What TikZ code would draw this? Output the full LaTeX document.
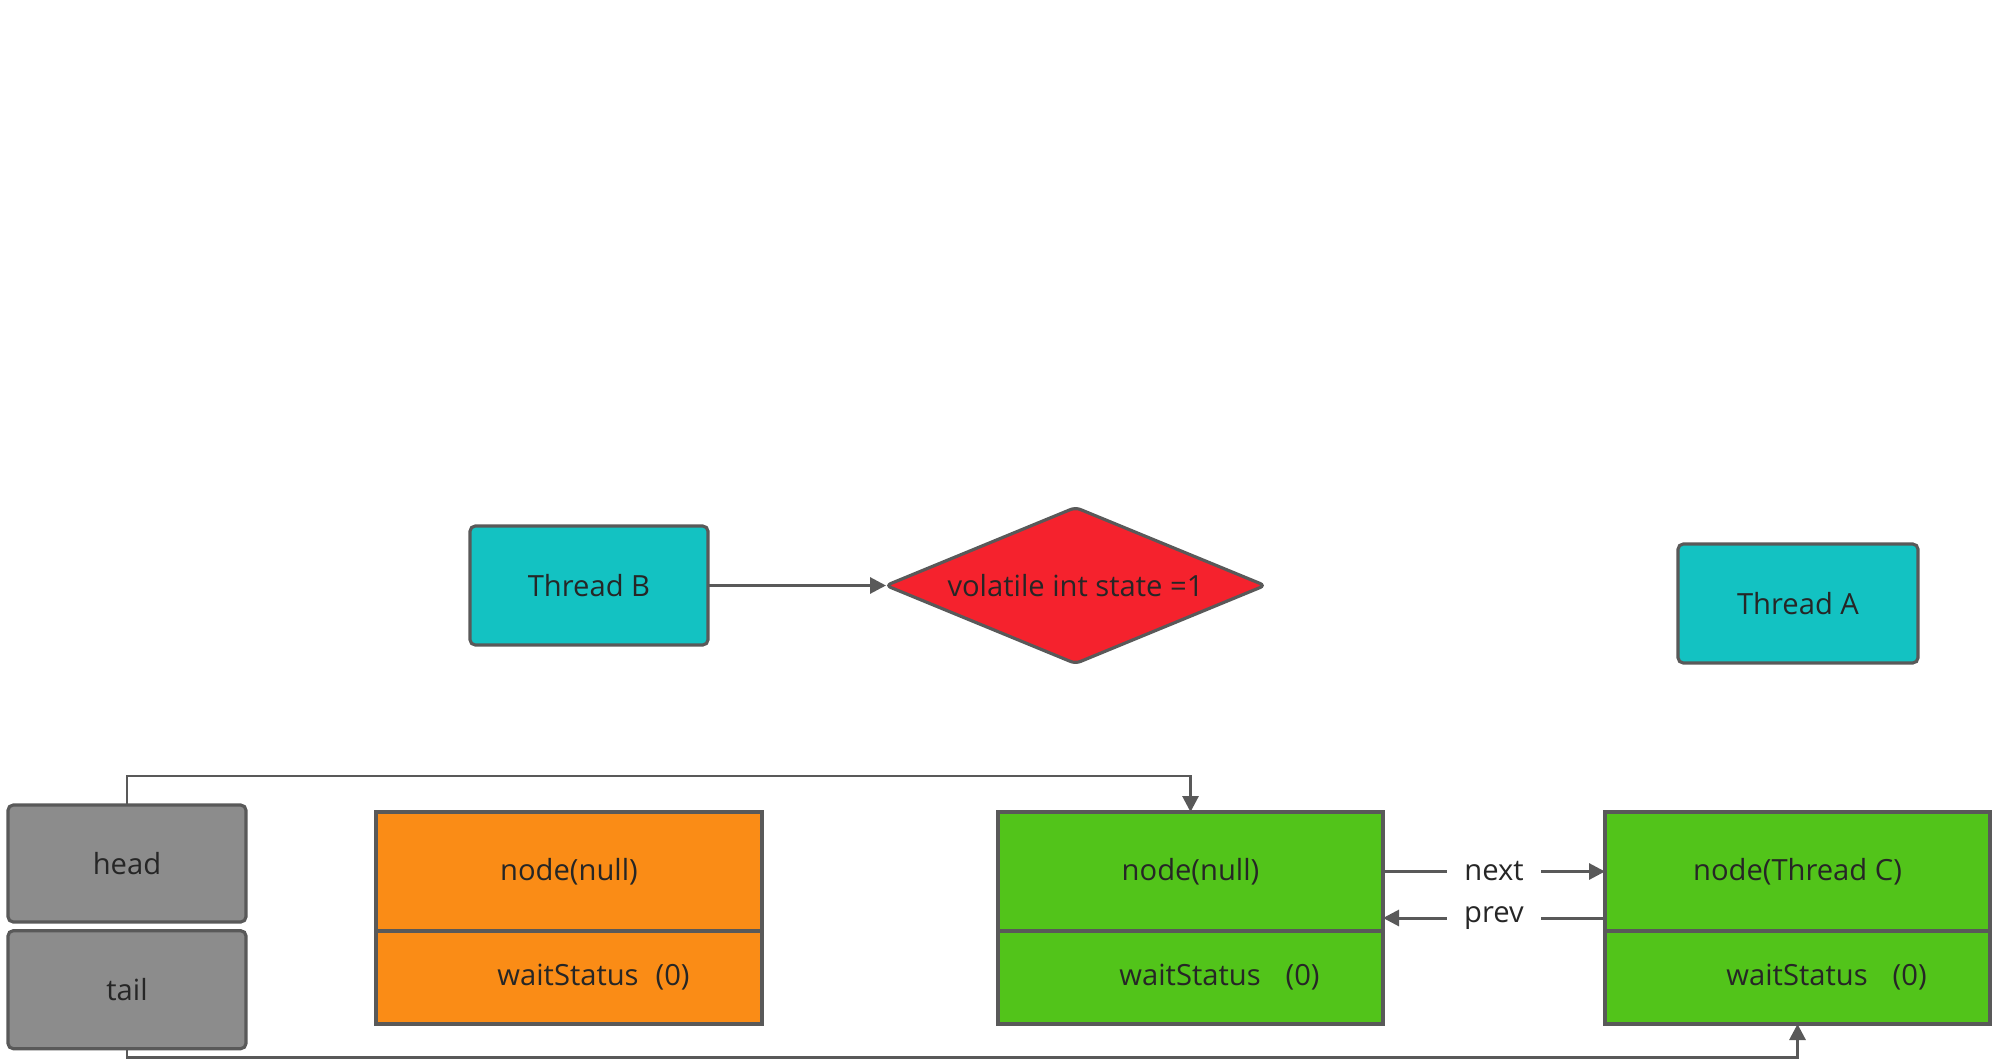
\documentclass[tikz,border=0pt]{standalone}
\usepackage{fontspec}
\setmainfont{Open Sans}
\usetikzlibrary{positioning,arrows.meta,calc,shapes.geometric}
\definecolor{ThreadCyan}{RGB}{19,194,194}
\definecolor{StateRed}{RGB}{245,34,45}
\definecolor{NullOrange}{RGB}{250,140,22}
\definecolor{NodeGreen}{RGB}{82,196,26}
\definecolor{RefGrey}{RGB}{140,140,140}
\definecolor{EdgeGrey}{RGB}{89,89,89}
\definecolor{TextDark}{RGB}{38,38,38}
\tikzset{
  flow/.style={-{Triangle[length=1.6mm,width=1.6mm]},line width=0.85pt,draw=EdgeGrey},
  box/.style={draw=EdgeGrey,line width=0.9pt,rounded corners=1.5pt,align=center,
    outer sep=0pt,font=\fontsize{8.3}{10}\selectfont,text=TextDark},
  threadbox/.style={box,fill=ThreadCyan,minimum width=2.38cm,minimum height=1.19cm},
  refbox/.style={box,fill=RefGrey,minimum width=2.38cm,minimum height=1.17cm},
  nulltop/.style={box,sharp corners,fill=NullOrange,minimum width=3.86cm,minimum height=1.19cm},
  nullbot/.style={box,sharp corners,fill=NullOrange,minimum width=3.86cm,minimum height=0.93cm},
  greentop/.style={box,sharp corners,fill=NodeGreen,minimum width=3.85cm,minimum height=1.19cm},
  greenbot/.style={box,sharp corners,fill=NodeGreen,minimum width=3.85cm,minimum height=0.93cm},
  statebox/.style={box,diamond,fill=StateRed,aspect=2.43,inner sep=1pt,
    minimum width=3.79cm,minimum height=1.56cm},
  linklbl/.style={fill=white,inner xsep=0.17cm,inner ysep=1pt,
    font=\fontsize{8.3}{10}\selectfont,text=TextDark}
}

\begin{document}
\begin{tikzpicture}
  \useasboundingbox (0,0) rectangle (19.98,-10.6);

  % threads and state
  \node[threadbox] (threadB) at (5.89,-5.855) {Thread B};
  \node[statebox,right=1.78cm of threadB] (state) {volatile int state =1};
  \node[threadbox,minimum width=2.40cm] (threadA) at (17.98,-6.035) {Thread A};
  \draw[flow] (threadB) -- (state);

  % head / tail
  \node[refbox] (headbox) at (1.27,-8.635) {head};
  \node[refbox,below=0.087cm of headbox,minimum height=1.18cm] (tailbox) {tail};

  % queue nodes
  \node[nulltop] (otop) at (5.69,-8.715) {node(null)};
  \node[nullbot,below=0cm of otop] (obot) {\hspace*{0.49cm}waitStatus\hspace{0.17cm}(0)};
  \node[greentop,right=2.36cm of otop] (g1top) {node(null)};
  \node[greenbot,below=0cm of g1top] (g1bot) {\hspace*{0.58cm}waitStatus\hspace{0.25cm}(0)};
  \node[greentop,right=2.22cm of g1top] (g2top) {node(Thread C)};
  \node[greenbot,below=0cm of g2top] (g2bot) {\hspace*{0.58cm}waitStatus\hspace{0.25cm}(0)};

  \draw[flow] (g1top) -- node[linklbl] {next} (g2top);
  \draw[flow] ([yshift=0.13cm]g2top.south west) -- node[linklbl] {prev} ([yshift=0.13cm]g1top.south east);

  \draw[flow] (headbox.north) -- ++(0,0.29) -| (g1top.north);
  \draw[flow] (tailbox.south) -- ++(0,-0.085) -| (g2bot.south);
\end{tikzpicture}
\end{document}
